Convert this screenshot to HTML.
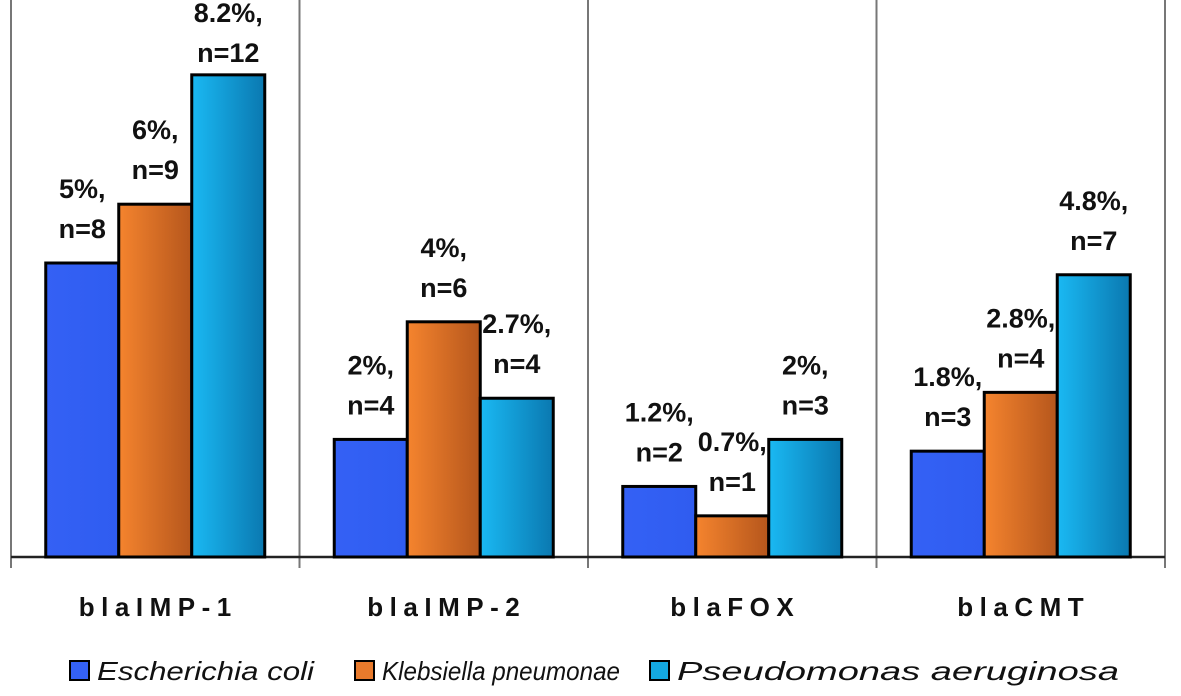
<!DOCTYPE html>
<html><head><meta charset="utf-8"><style>
body{margin:0;background:#fff;}
svg{display:block;font-family:"Liberation Sans",sans-serif;}
</style></head><body>
<svg id="chart" width="1181" height="696">
<defs>
<linearGradient id="gE" x1="0" x2="1"><stop offset="0" stop-color="#3461f5"/><stop offset="1" stop-color="#2f5cf0"/></linearGradient>
<linearGradient id="gK" x1="0" x2="1"><stop offset="0" stop-color="#f5842e"/><stop offset="1" stop-color="#b5561c"/></linearGradient>
<linearGradient id="gP" x1="0" x2="1"><stop offset="0" stop-color="#1ab9f3"/><stop offset="1" stop-color="#0a78b0"/></linearGradient>
</defs>
</svg>
<script>
const categories = ["blaIMP-1","blaIMP-2","blaFOX","blaCMT"];
const seriesNames = ["Escherichia coli","Klebsiella pneumonae","Pseudomonas aeruginosa"];
const ecoli = [5, 2, 1.2, 1.8];
const kleb = [6, 4, 0.7, 2.8];
const pseudo = [8.2, 2.7, 2, 4.8];
const ecoliN = [8, 4, 2, 3];
const klebN = [9, 6, 1, 4];
const pseudoN = [12, 4, 3, 7];
const ecoliLbl = ["5%,","2%,","1.2%,","1.8%,"];
const klebLbl = ["6%,","4%,","0.7%,","2.8%,"];
const pseudoLbl = ["8.2%,","2.7%,","2%,","4.8%,"];

const NS="http://www.w3.org/2000/svg";
const svg=document.getElementById('chart');
const x0=11,x1=1165,base=557,pxPer=58.8;
const gw=(x1-x0)/categories.length;
const yScale=v=>base-v*pxPer;
const barW=73;
function mk(t,a){const e=document.createElementNS(NS,t);for(const k in a)e.setAttribute(k,a[k]);svg.appendChild(e);return e;}

for(let i=0;i<=categories.length;i++){
  const x=x0+i*gw;
  const l=mk('line',{x1:x,x2:x,y1:0,y2:568,stroke:'#777','stroke-width':2});
  
  
}
const ax=mk('line',{x1:x0,x2:x1,y1:base,y2:base,stroke:'#222','stroke-width':2.5});



const series=[[ecoli,ecoliN,ecoliLbl,'url(#gE)'],[kleb,klebN,klebLbl,'url(#gK)'],[pseudo,pseudoN,pseudoLbl,'url(#gP)']];
categories.forEach((c,i)=>{
  const cx=x0+gw*(i+0.5);
  const t=mk('text',{x:cx+3,y:616,'text-anchor':'middle','font-size':26,'font-weight':'bold','letter-spacing':6.5,fill:'#111'});
  t.textContent=c;
  
  
  series.forEach((s,j)=>{
    const v=s[0][i];
    const bx=cx-1.5*barW+j*barW;
    const top=yScale(v);
    const r=mk('rect',{x:bx,y:top,width:barW,height:base-top,fill:s[3],stroke:'#000','stroke-width':3});
    
    
    let b1=Math.max(top-65,22);
    const l1=mk('text',{x:bx+barW/2,y:b1,'text-anchor':'middle','font-size':27,'font-weight':'bold',fill:'#111'});
    l1.textContent=s[2][i];
    
    
    const l2=mk('text',{x:bx+barW/2,y:b1+40,'text-anchor':'middle','font-size':27,'font-weight':'bold',fill:'#111'});
    l2.textContent='n='+s[1][i];
    
    
  });
});
const legX=[70,355,650], legW=[217,238,442];
const legFill=['#3461f5','#e87a2c','#14a8e0'];
seriesNames.forEach((n,j)=>{
  const r=mk('rect',{x:legX[j],y:661,width:19,height:19,fill:legFill[j],stroke:'#000','stroke-width':2});
  
  
  const t=mk('text',{x:legX[j]+27,y:680,'font-size':26,'font-style':'italic',fill:'#111',textLength:legW[j],lengthAdjust:'spacingAndGlyphs'});
  t.textContent=n;
  
  
});
</script>
</body></html>
